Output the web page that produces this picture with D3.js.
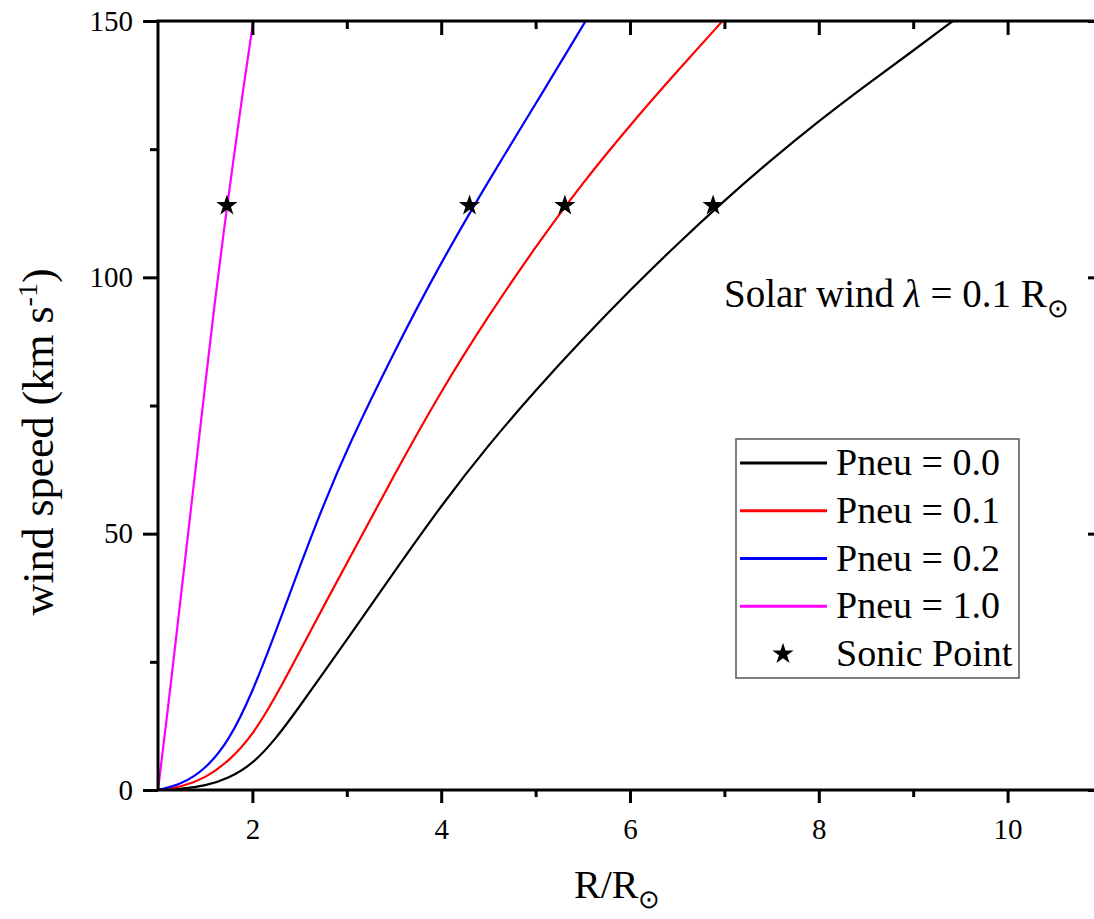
<!DOCTYPE html>
<html>
<head>
<meta charset="utf-8">
<script src="https://cdn.jsdelivr.net/npm/d3@7"></script>
<style>
    body { margin: 0; background: #fff; }
    text { font-family: "Liberation Serif", "Times New Roman", Times, serif; fill: #000; }
</style>
</head>
<body>
<script>
// R/Rsun and wind speed (km/s)
var r00 = [1, 1.25, 1.5, 1.75, 2, 2.25, 2.5, 2.75, 3, 3.5, 4, 4.5, 5, 5.5, 6, 6.5, 7, 7.5, 8, 8.5, 9, 9.42];
var v00 = [0, 0.2, 0.8, 2.3, 5, 10, 16.3, 22.8, 29.3, 42.5, 55.5, 67.3, 78, 88, 97.5, 106.5, 115, 123, 130.5, 137.5, 144.2, 150];

var r01 = [1, 1.25, 1.5, 1.75, 2, 2.25, 2.5, 2.75, 3, 3.5, 4, 4.5, 5, 5.5, 6, 6.5, 6.98];
var v01 = [0, 0.6, 2.3, 5.6, 10.6, 18.3, 27, 35.7, 44.2, 61.4, 77.9, 92.5, 106, 118.5, 129.7, 140.2, 150];

var r02 = [1, 1.25, 1.5, 1.75, 2, 2.25, 2.5, 2.75, 3, 3.5, 4, 4.5, 5, 5.53];
var v02 = [0, 1.1, 4, 9.5, 19, 31, 43.5, 55.5, 66.5, 85.5, 103, 118.8, 133.8, 150];

var r10 = [1, 1.1, 1.2, 1.3, 1.4, 1.5, 1.6, 1.7, 1.8, 1.9, 2.01];
var v10 = [0, 15, 31, 47, 63, 79, 95, 109.5, 123, 136.5, 150];

var sonicR = [6.88, 5.31, 4.30, 1.73];
var sonicV = [114, 114, 114, 114];

var seriesNames = ["Pneu = 0.0", "Pneu = 0.1", "Pneu = 0.2", "Pneu = 1.0"];
var seriesColors = ["#000000", "#ff0000", "#0000ff", "#ff00ff"];

var xMajor = [2, 4, 6, 8, 10];
var xMinor = [3, 5, 7, 9, 11];
var yMajor = [0, 50, 100, 150];
var yMinor = [25, 75, 125];

function init() {
    var w = 1094;
    var h = 919;

    var left = 158, top = 21, right = 1102, bottom = 790;

    var x = d3.scaleLinear().domain([1, 11]).range([left, right]);
    var y = d3.scaleLinear().domain([0, 150]).range([bottom, top]);

    var svg = d3.select("body")
        .append("svg")
        .attr("width", w)
        .attr("height", h);

    svg.append("defs").append("clipPath")
        .attr("id", "plot")
        .append("rect")
        .attr("x", left).attr("y", top)
        .attr("width", right - left).attr("height", bottom - top);

    // curves
    var series = [
        { r: r00, v: v00 },
        { r: r01, v: v01 },
        { r: r02, v: v02 },
        { r: r10, v: v10 }
    ];

    var line = d3.line()
        .x(function(d) { return x(d[0]); })
        .y(function(d) { return y(d[1]); })
        .curve(d3.curveBasis);

    svg.append("g")
        .attr("clip-path", "url(#plot)")
        .selectAll("path")
        .data(series)
        .enter()
        .append("path")
        .attr("fill", "none")
        .attr("stroke", function(d, i) { return seriesColors[i]; })
        .attr("stroke-width", 2.2)
        .attr("d", function(d) { return line(d3.zip(d.r, d.v)); });

    // sonic points
    var star = d3.symbol().type(d3.symbolStar).size(140);
    svg.append("g")
        .selectAll("path")
        .data(d3.zip(sonicR, sonicV))
        .enter()
        .append("path")
        .attr("d", star)
        .attr("fill", "#000")
        .attr("transform", function(d) {
            return "translate(" + x(d[0]) + "," + y(d[1]) + ")";
        });

    // axes
    function styleAxis(g) {
        g.attr("font-family", null);
        g.select(".domain").remove();
        g.selectAll("line").attr("stroke", "#000").attr("stroke-width", 3);
        g.selectAll("text").style("font-size", "29px");
    }

    svg.append("g").attr("transform", "translate(0," + bottom + ")")
        .call(d3.axisBottom(x).tickValues(xMajor).tickSize(13).tickPadding(15).tickFormat(d3.format("d")))
        .call(styleAxis);
    svg.append("g").attr("transform", "translate(0," + bottom + ")")
        .call(d3.axisBottom(x).tickValues(xMinor).tickSize(7).tickFormat(""))
        .call(styleAxis);

    svg.append("g").attr("transform", "translate(0," + top + ")")
        .call(d3.axisTop(x).tickValues(xMajor).tickSize(-14).tickFormat(""))
        .call(styleAxis);
    svg.append("g").attr("transform", "translate(0," + top + ")")
        .call(d3.axisTop(x).tickValues(xMinor).tickSize(-8).tickFormat(""))
        .call(styleAxis);

    svg.append("g").attr("transform", "translate(" + left + ",0)")
        .call(d3.axisLeft(y).tickValues(yMajor).tickSize(15).tickPadding(10).tickFormat(d3.format("d")))
        .call(styleAxis);
    svg.append("g").attr("transform", "translate(" + left + ",0)")
        .call(d3.axisLeft(y).tickValues(yMinor).tickSize(8).tickFormat(""))
        .call(styleAxis);

    svg.append("g").attr("transform", "translate(" + right + ",0)")
        .call(d3.axisRight(y).tickValues(yMajor).tickSize(-14).tickFormat(""))
        .call(styleAxis);
    svg.append("g").attr("transform", "translate(" + right + ",0)")
        .call(d3.axisRight(y).tickValues(yMinor).tickSize(-8).tickFormat(""))
        .call(styleAxis);

    // frame
    svg.append("rect")
        .attr("x", left).attr("y", top)
        .attr("width", right - left).attr("height", bottom - top)
        .attr("fill", "none")
        .attr("stroke", "#000")
        .attr("stroke-width", 3);

    // axis titles
    var xt = svg.append("text")
        .attr("x", 574).attr("y", 898)
        .style("font-size", "40px");
    xt.append("tspan").text("R/R");
    xt.append("tspan").attr("dy", 10).style("font-size", "26px").text("\u2299");

    var yt = svg.append("text")
        .attr("transform", "translate(53,442) rotate(-90)")
        .attr("text-anchor", "middle")
        .style("font-size", "44px");
    yt.append("tspan").text("wind speed (km s");
    yt.append("tspan").attr("dy", -16).style("font-size", "28px").text("-1");
    yt.append("tspan").attr("dy", 16).text(")");

    // annotation
    var note = svg.append("text")
        .attr("x", 724).attr("y", 307)
        .style("font-size", "39px");
    note.append("tspan").text("Solar wind ");
    note.append("tspan").style("font-style", "italic").text("\u03bb");
    note.append("tspan").text(" = 0.1 R");
    note.append("tspan").attr("dy", 10).style("font-size", "26px").text("\u2299");

    // legend
    var legend = svg.append("g");
    legend.append("rect")
        .attr("x", 736).attr("y", 439)
        .attr("width", 283).attr("height", 239)
        .attr("fill", "#fff")
        .attr("stroke", "#555")
        .attr("stroke-width", 1.5);

    var rowY = d3.scaleLinear().domain([0, 4]).range([463, 654]);

    var rows = legend.selectAll("g.row")
        .data(seriesNames)
        .enter()
        .append("g")
        .attr("class", "row");

    rows.append("line")
        .attr("x1", 740).attr("x2", 827)
        .attr("y1", function(d, i) { return rowY(i); })
        .attr("y2", function(d, i) { return rowY(i); })
        .attr("stroke", function(d, i) { return seriesColors[i]; })
        .attr("stroke-width", 3.2);

    rows.append("text")
        .attr("x", 836)
        .attr("y", function(d, i) { return rowY(i) + 12; })
        .style("font-size", "38px")
        .text(function(d) { return d; });

    legend.append("path")
        .attr("d", star)
        .attr("transform", "translate(783," + rowY(4) + ")");
    legend.append("text")
        .attr("x", 836)
        .attr("y", rowY(4) + 12)
        .style("font-size", "38px")
        .text("Sonic Point");
}

window.onload = init;
</script>
</body>
</html>
